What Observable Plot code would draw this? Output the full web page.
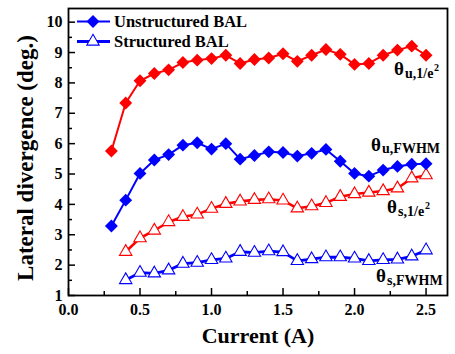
<!DOCTYPE html>
<html>
<head>
<meta charset="utf-8">
<script src="https://cdn.jsdelivr.net/npm/d3@7"></script>
<script src="https://cdn.jsdelivr.net/npm/@observablehq/plot@0.6"></script>
<style>
  body { margin: 0; background: #fff; }
  #wrap { position: relative; width: 455px; height: 354px; }
  #wrap svg { display: block; }
  #legend { position: absolute; left: 0; top: 0; pointer-events: none; }
</style>
</head>
<body>
<div id="wrap"></div>
<script>
// ---- data ----
const current_u = [0.3, 0.4, 0.5, 0.6, 0.7, 0.8, 0.9, 1.0, 1.1, 1.2, 1.3, 1.4, 1.5, 1.6, 1.7, 1.8, 1.9, 2.0, 2.1, 2.2, 2.3, 2.4, 2.5];
const theta_u_1e2 = [5.76, 7.34, 8.07, 8.31, 8.43, 8.67, 8.75, 8.80, 8.91, 8.64, 8.77, 8.82, 8.96, 8.71, 8.91, 9.10, 8.94, 8.61, 8.64, 8.91, 9.08, 9.21, 8.91];
const theta_u_fwhm = [3.29, 4.14, 5.02, 5.46, 5.64, 5.95, 6.03, 5.82, 6.00, 5.49, 5.61, 5.73, 5.71, 5.59, 5.68, 5.81, 5.42, 5.02, 4.93, 5.13, 5.25, 5.32, 5.34];
const current_s = [0.4, 0.5, 0.6, 0.7, 0.8, 0.9, 1.0, 1.1, 1.2, 1.3, 1.4, 1.5, 1.6, 1.7, 1.8, 1.9, 2.0, 2.1, 2.2, 2.3, 2.4, 2.5];
const theta_s_1e2 = [2.44, 2.89, 3.14, 3.42, 3.59, 3.67, 3.86, 4.02, 4.10, 4.15, 4.17, 4.13, 3.87, 3.94, 4.05, 4.25, 4.34, 4.39, 4.44, 4.53, 4.86, 4.96];
const theta_s_fwhm = [1.51, 1.75, 1.73, 1.83, 2.05, 2.08, 2.17, 2.22, 2.44, 2.41, 2.46, 2.43, 2.14, 2.20, 2.26, 2.26, 2.22, 2.14, 2.17, 2.19, 2.29, 2.49];

const xTicks = [0.0, 0.5, 1.0, 1.5, 2.0, 2.5];
const xMinorTicks = [0.25, 0.75, 1.25, 1.75, 2.25];
const yTicks = [1, 2, 3, 4, 5, 6, 7, 8, 9, 10];
const yMinorTicks = [1.5, 2.5, 3.5, 4.5, 5.5, 6.5, 7.5, 8.5, 9.5];
const legendNames = ["Unstructured BAL", "Structured BAL"];
const xTitle = "Current (A)";
const yTitle = "Lateral divergence (deg.)";

// ---- layout / style ----
const W = 455, H = 354;
const M = {top: 8, right: 8, bottom: 59, left: 68};
const innerW = W - M.left - M.right;
const innerH = H - M.top - M.bottom;
const red = "#ff0000", blue = "#0000ff";
const font = "'Liberation Serif', 'Times New Roman', serif";

const rowsU = current_u.map((x, i) => ({x, e2: theta_u_1e2[i], fwhm: theta_u_fwhm[i]}));
const rowsS = current_s.map((x, i) => ({x, e2: theta_s_1e2[i], fwhm: theta_s_fwhm[i]}));

// annotation labels anchored on each series' last point
const annotations = [
  {rows: rowsU, key: "e2",   sub: "u,1/e", sup: "2", th: [-32, 20], sb: [-21, 23], sp: [8, 16]},
  {rows: rowsU, key: "fwhm", sub: "u,FWHM", sup: "",  th: [-55, -13], sb: [-44, -11], sp: [0, 0]},
  {rows: rowsS, key: "e2",   sub: "s,1/e", sup: "2", th: [-39, 38], sb: [-28, 41], sp: [-1, 34]},
  {rows: rowsS, key: "fwhm", sub: "s,FWHM", sup: "",  th: [-50, 32], sb: [-39, 35], sp: [0, 0]}
];

const annoMarks = annotations.flatMap(a => {
  const last = [a.rows[a.rows.length - 1]];
  const m = [
    Plot.text(last, {x: "x", y: a.key, text: () => "θ", textAnchor: "start", lineAnchor: "bottom",
      dx: a.th[0], dy: a.th[1], fontSize: 19, fill: "black"}),
    Plot.text(last, {x: "x", y: a.key, text: () => a.sub, textAnchor: "start", lineAnchor: "bottom",
      dx: a.sb[0], dy: a.sb[1], fontSize: 14, fill: "black"})
  ];
  if (a.sup) m.push(Plot.text(last, {x: "x", y: a.key, text: () => a.sup, textAnchor: "start", lineAnchor: "bottom",
      dx: a.sp[0], dy: a.sp[1], fontSize: 10, fill: "black"}));
  return m;
});

const chart = Plot.plot({
  width: W, height: H,
  marginTop: M.top, marginRight: M.right, marginBottom: M.bottom, marginLeft: M.left,
  style: {fontFamily: font, fontWeight: "bold", background: "white", color: "black"},
  x: {domain: [0, 2.65]},
  y: {domain: [1, 10.45]},
  marks: [
    // structured (hollow triangles)
    Plot.line(rowsS, {x: "x", y: "e2", stroke: red, strokeWidth: 2.6}),
    Plot.line(rowsS, {x: "x", y: "fwhm", stroke: blue, strokeWidth: 2.8}),
    Plot.dot(rowsS, {x: "x", y: "e2", symbol: "triangle", r: 4.6, fill: "white", stroke: red, strokeWidth: 1.1}),
    Plot.dot(rowsS, {x: "x", y: "fwhm", symbol: "triangle", r: 4.6, fill: "white", stroke: blue, strokeWidth: 1.1}),
    // unstructured (filled diamonds)
    Plot.line(rowsU, {x: "x", y: "e2", stroke: red, strokeWidth: 2}),
    Plot.line(rowsU, {x: "x", y: "fwhm", stroke: blue, strokeWidth: 2}),
    Plot.dot(rowsU, {x: "x", y: "e2", symbol: "diamond2", r: 5.8, fill: red, stroke: "none"}),
    Plot.dot(rowsU, {x: "x", y: "fwhm", symbol: "diamond2", r: 5.8, fill: blue, stroke: "none"}),
    // inward ticks
    Plot.tickX(xMinorTicks, {x: Plot.identity, insetTop: innerH - 4, stroke: "black", strokeWidth: 1.5}),
    Plot.tickX(xTicks, {x: Plot.identity, insetTop: innerH - 7, stroke: "black", strokeWidth: 1.5}),
    Plot.tickY(yMinorTicks, {y: Plot.identity, insetRight: innerW - 4, stroke: "black", strokeWidth: 1.5}),
    Plot.tickY(yTicks, {y: Plot.identity, insetRight: innerW - 7, stroke: "black", strokeWidth: 1.5}),
    // tick labels
    Plot.axisX(xTicks, {tickSize: 0, tickPadding: 8, tickFormat: d3.format(".1f"), label: null, fontSize: 16}),
    Plot.axisY(yTicks, {tickSize: 0, tickPadding: 6, tickFormat: d3.format("d"), label: null, fontSize: 16}),
    // axis titles
    Plot.text([xTitle], {frameAnchor: "bottom", dy: 40, fontSize: 22, fill: "black", lineAnchor: "middle"}),
    Plot.text([yTitle], {frameAnchor: "left", dx: -43, dy: 6, rotate: -90, textAnchor: "middle", fontSize: 23, fill: "black", lineAnchor: "middle"}),
    Plot.frame({stroke: "black", strokeWidth: 1.8}),
    ...annoMarks
  ]
});

const wrap = document.getElementById("wrap");
wrap.appendChild(chart);

// legend overlay (top-left inside the frame)
const legendStyles = [
  {symbol: d3.symbolDiamond2, size: Math.PI * 5.8 * 5.8, fill: blue, stroke: "none", sw: 0, line: blue, lw: 2},
  {symbol: d3.symbolTriangle, size: Math.PI * 4.6 * 4.6, fill: "white", stroke: blue, sw: 1.1, line: blue, lw: 2.8}
];
const leg = d3.create("svg").attr("id", "legend").attr("width", W).attr("height", H);
legendNames.forEach((name, i) => {
  const s = legendStyles[i];
  const cy = 21.5 + i * 20;
  const g = leg.append("g");
  g.append("line").attr("x1", 77).attr("x2", 110).attr("y1", cy).attr("y2", cy)
    .attr("stroke", s.line).attr("stroke-width", s.lw);
  g.append("path").attr("d", d3.symbol(s.symbol, s.size)()).attr("transform", `translate(93,${cy})`)
    .attr("fill", s.fill).attr("stroke", s.stroke).attr("stroke-width", s.sw);
  g.append("text").attr("x", 114).attr("y", cy + 5.5).text(name)
    .attr("font-family", font).attr("font-weight", "bold").attr("font-size", 16.5).attr("fill", "black");
});
wrap.appendChild(leg.node());
</script>
</body>
</html>
